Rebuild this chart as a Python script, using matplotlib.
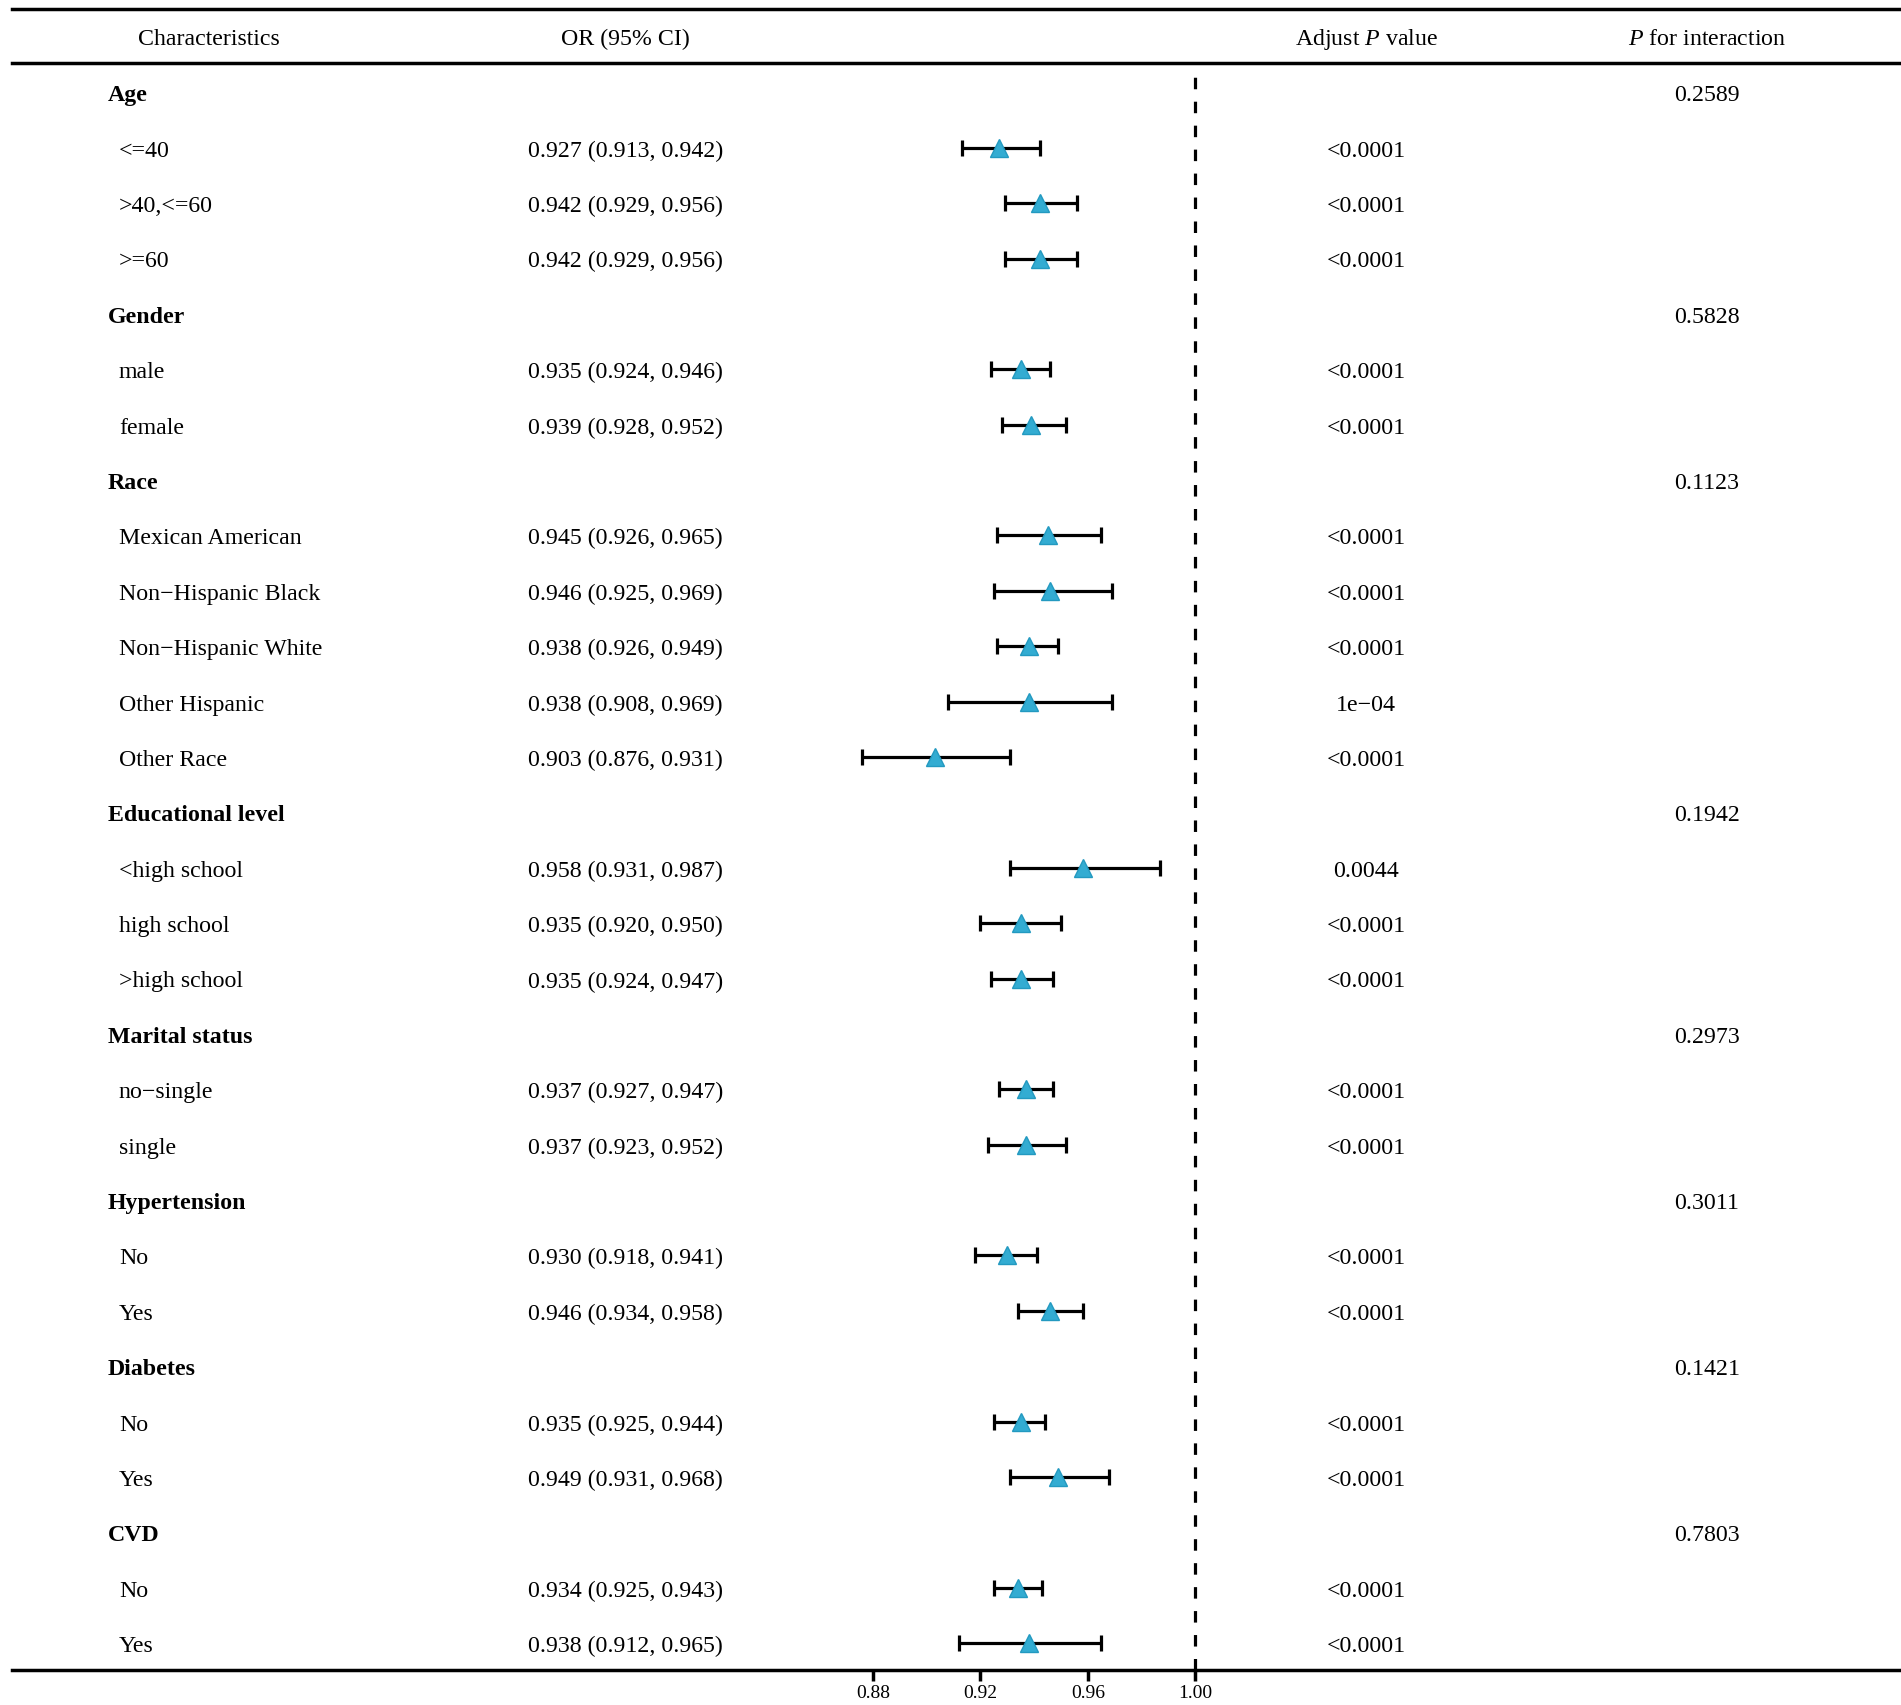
import numpy as np
import matplotlib
matplotlib.use("Agg")
import matplotlib.pyplot as plt
from matplotlib.transforms import blended_transform_factory

plt.rcParams['font.family'] = ['Liberation Serif', 'DejaVu Serif']
plt.rcParams['mathtext.fontset'] = 'custom'
plt.rcParams['mathtext.rm'] = 'Liberation Serif'
plt.rcParams['mathtext.it'] = 'Liberation Serif:italic'

nan = np.nan

# table rows (group headers have no estimate)
labels = ["Age", "<=40", ">40,<=60", ">=60",
          "Gender", "male", "female",
          "Race", "Mexican American", "Non\u2212Hispanic Black", "Non\u2212Hispanic White",
          "Other Hispanic", "Other Race",
          "Educational level", "<high school", "high school", ">high school",
          "Marital status", "no\u2212single", "single",
          "Hypertension", "No", "Yes",
          "Diabetes", "No", "Yes",
          "CVD", "No", "Yes"]
is_group = [1, 0, 0, 0, 1, 0, 0, 1, 0, 0, 0, 0, 0, 1, 0, 0, 0, 1, 0, 0, 1, 0, 0, 1, 0, 0, 1, 0, 0]
or_est = [nan, 0.927, 0.942, 0.942, nan, 0.935, 0.939, nan, 0.945, 0.946, 0.938, 0.938, 0.903,
          nan, 0.958, 0.935, 0.935, nan, 0.937, 0.937, nan, 0.930, 0.946, nan, 0.935, 0.949,
          nan, 0.934, 0.938]
or_low = [nan, 0.913, 0.929, 0.929, nan, 0.924, 0.928, nan, 0.926, 0.925, 0.926, 0.908, 0.876,
          nan, 0.931, 0.920, 0.924, nan, 0.927, 0.923, nan, 0.918, 0.934, nan, 0.925, 0.931,
          nan, 0.925, 0.912]
or_high = [nan, 0.942, 0.956, 0.956, nan, 0.946, 0.952, nan, 0.965, 0.969, 0.949, 0.969, 0.931,
           nan, 0.987, 0.950, 0.947, nan, 0.947, 0.952, nan, 0.941, 0.958, nan, 0.944, 0.968,
           nan, 0.943, 0.965]
p_adjust = ["", "<0.0001", "<0.0001", "<0.0001", "", "<0.0001", "<0.0001", "",
            "<0.0001", "<0.0001", "<0.0001", "1e\u221204", "<0.0001", "",
            "0.0044", "<0.0001", "<0.0001", "", "<0.0001", "<0.0001", "",
            "<0.0001", "<0.0001", "", "<0.0001", "<0.0001", "", "<0.0001", "<0.0001"]
p_interaction = ["0.2589", "", "", "", "0.5828", "", "", "0.1123", "", "", "", "", "",
                 "0.1942", "", "", "", "0.2973", "", "", "0.3011", "", "", "0.1421", "", "",
                 "0.7803", "", ""]
xticks = [0.88, 0.92, 0.96, 1.00]

W, H = 1568.0, 1407.0  # layout measured on a scaled copy
row0, row_step = 77.0, 45.68

fig = plt.figure(figsize=(19.01, 17.06), dpi=100)
ax = fig.add_axes([653.5 / W, 1 - 1378 / H, (1041.4 - 653.5) / W, (1378 - 53) / H])
ax.set_xlim(0.85, 1.025)
ax.set_ylim((1378 - row0) / row_step, (53 - row0) / row_step)
for s in ax.spines.values():
    s.set_visible(False)
ax.set_yticks([])
ax.set_xticks(xticks)
ax.set_xticklabels([f"{t:.2f}" for t in xticks], fontsize=14)
ax.tick_params(axis='x', direction='out', length=8, width=2.5, pad=2)
ax.patch.set_alpha(0)

y = np.arange(len(labels))
est = np.array(or_est)
lo = np.array(or_low)
hi = np.array(or_high)
m = ~np.isnan(est)

ax.axvline(1.0, ymin=0, ymax=1 - (62.7 - 53) / (1378 - 53), color='black', lw=2.3,
           linestyle=(0, (3.6, 3.9)), zorder=1)
ax.errorbar(est[m], y[m], xerr=[est[m] - lo[m], hi[m] - est[m]], fmt='none',
            ecolor='black', elinewidth=2.3, capsize=5.5, capthick=2.3, zorder=2)
ax.plot(est[m], y[m], linestyle='none', marker='^', ms=13, mfc='#33acd2',
        mec='#2399c0', mew=1.0, zorder=3)

tr = blended_transform_factory(fig.transFigure, ax.transData)
fs = 17.2
dy = 2.0 / row_step  # text sits a little below the marker centre
for i, lab in enumerate(labels):
    ty = i + dy
    if is_group[i]:
        fig.text(89 / W, ty, lab, transform=tr, fontsize=fs, fontweight='bold',
                 ha='left', va='center')
    else:
        fig.text(98 / W, ty, lab, transform=tr, fontsize=fs, ha='left', va='center')
        fig.text(516 / W, ty, f"{or_est[i]:.3f} ({or_low[i]:.3f}, {or_high[i]:.3f})",
                 transform=tr, fontsize=fs, ha='center', va='center')
    if p_adjust[i]:
        fig.text(1127 / W, ty, p_adjust[i], transform=tr, fontsize=fs, ha='center', va='center')
    if p_interaction[i]:
        fig.text(1408 / W, ty, p_interaction[i], transform=tr, fontsize=fs,
                 ha='center', va='center')

# header
hy = 1 - 32.5 / H
fig.text(172 / W, hy, "Characteristics", fontsize=fs, ha='center', va='center')
fig.text(516 / W, hy, "OR (95% CI)", fontsize=fs, ha='center', va='center')
fig.text(1127 / W, hy, "Adjust $P$ value", fontsize=fs, ha='center', va='center')
fig.text(1408 / W, hy, "$P$ for interaction", fontsize=fs, ha='center', va='center')

for ly in (8, 53, 1378):
    fig.add_artist(plt.Line2D([10 / W, 1.0], [1 - ly / H, 1 - ly / H],
                              transform=fig.transFigure, color='black', lw=2.5))

fig.savefig("out.png", dpi=100)
